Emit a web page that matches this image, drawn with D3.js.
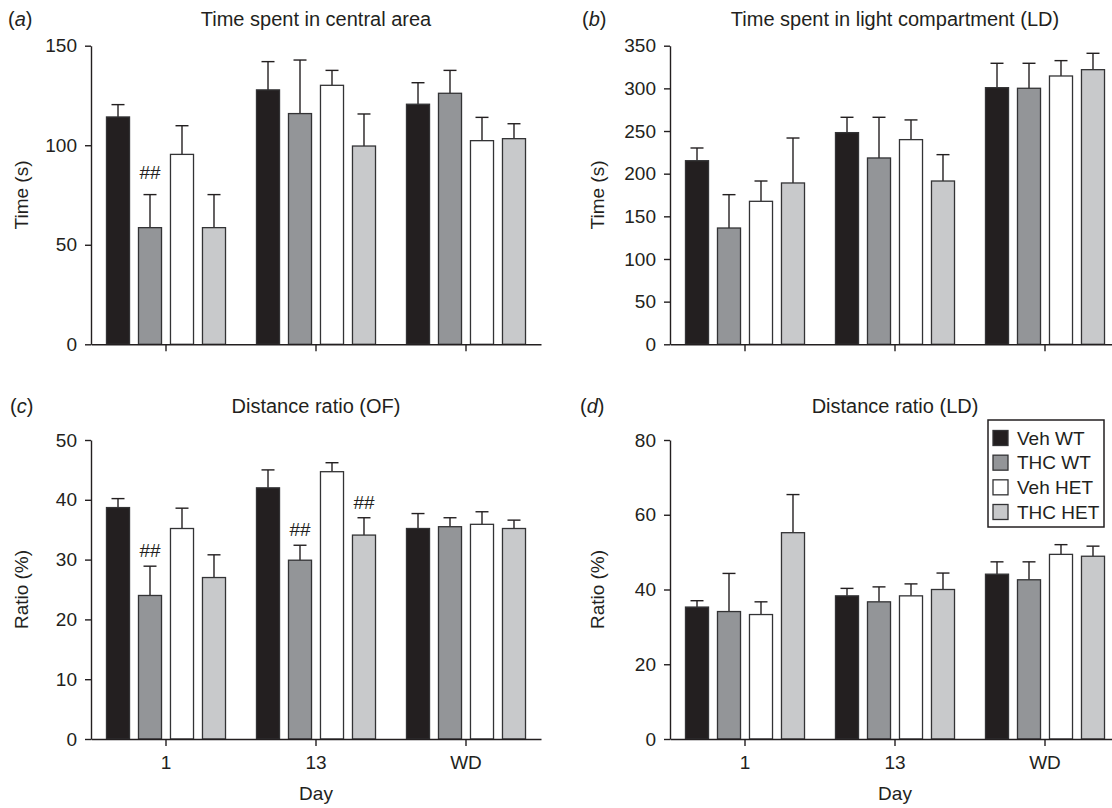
<!DOCTYPE html>
<html>
<head>
<meta charset="utf-8">
<script src="https://cdn.jsdelivr.net/npm/d3@7"></script>
<style>
  html, body { margin: 0; padding: 0; background: #fff; }
  svg { display: block; font-family: "Liberation Sans", Arial, Helvetica, sans-serif; }
</style>
</head>
<body>
<svg id="chart" width="1112" height="808"></svg>
<script>
// ---------------- DATA ----------------
const days = ["1", "13", "WD"];
const groups = ["Veh WT", "THC WT", "Veh HET", "THC HET"];

// (a) Time spent in central area (s) — rows: groups, columns: days
const centralMean = [[114.2, 127.8, 120.6], [58.6, 115.9, 126.1], [95.4, 130.1, 102.3], [58.6, 99.6, 103.3]];
const centralSem  = [[6.2, 14.2, 10.8], [16.6, 26.9, 11.5], [14.4, 7.5, 11.7], [16.6, 16.1, 7.5]];
const centralTicks = [0, 50, 100, 150];

// (b) Time spent in light compartment (LD) (s)
const lightMean = [[215.2, 248.1, 300.8], [136.3, 218.4, 300.1], [167.6, 239.9, 314.5], [189.1, 191.4, 321.9]];
const lightSem  = [[14.9, 18.0, 28.6], [39.1, 47.7, 29.3], [23.8, 23.1, 18.0], [52.7, 30.9, 19.2]];
const lightTicks = [0, 50, 100, 150, 200, 250, 300, 350];

// (c) Distance ratio (OF) (%)
const ofMean = [[38.7, 42.0, 35.2], [24.0, 29.9, 35.5], [35.2, 44.7, 35.9], [27.0, 34.1, 35.2]];
const ofSem  = [[1.5, 3.0, 2.5], [4.9, 2.5, 1.5], [3.4, 1.5, 2.1], [3.8, 2.9, 1.4]];
const ofTicks = [0, 10, 20, 30, 40, 50];

// (d) Distance ratio (LD) (%)
const ldMean = [[35.3, 38.3, 44.1], [34.1, 36.7, 42.6], [33.3, 38.3, 49.4], [55.2, 40.0, 48.9]];
const ldSem  = [[1.7, 2.0, 3.3], [10.2, 4.0, 4.8], [3.4, 3.2, 2.6], [10.2, 4.4, 2.7]];
const ldTicks = [0, 20, 40, 60, 80];

// significance markers: [groupIndex, dayIndex]
const centralMarks = [[1, 0]];
const ofMarks = [[1, 0], [1, 1], [3, 1]];
const markText = "##";

// ---------------- STYLE / LAYOUT ----------------
const ink = "#231f20";
const fills = ["#231f20", "#939598", "#ffffff", "#c8c9cb"];
const fontSize = 19;

const panels = [
  { letter: "a", title: "Time spent in central area", yLabel: "Time (s)", mean: centralMean, sem: centralSem, ticks: centralTicks, marks: centralMarks,
    left: 91, right: 541, top: 45.7, bottom: 344.3, titleY: 26, letterX: 8, yLabelX: 21, showX: false, markGap: 16 },
  { letter: "b", title: "Time spent in light compartment (LD)", yLabel: "Time (s)", mean: lightMean, sem: lightSem, ticks: lightTicks, marks: [],
    left: 670, right: 1120, top: 45.7, bottom: 344.3, titleY: 26, letterX: 582, yLabelX: 597, showX: false, markGap: 16 },
  { letter: "c", title: "Distance ratio (OF)", yLabel: "Ratio (%)", mean: ofMean, sem: ofSem, ticks: ofTicks, marks: ofMarks,
    left: 91, right: 541, top: 440, bottom: 739, titleY: 413, letterX: 10, yLabelX: 21, showX: true, markGap: 9 },
  { letter: "d", title: "Distance ratio (LD)", yLabel: "Ratio (%)", mean: ldMean, sem: ldSem, ticks: ldTicks, marks: [],
    left: 670, right: 1120, top: 440, bottom: 739, titleY: 413, letterX: 580, yLabelX: 597, showX: true, markGap: 9 }
];

const svg = d3.select("#chart");

panels.forEach(p => {
  const g = svg.append("g");
  const x0 = d3.scaleBand().domain(days).range([p.left, p.right]).padding(0);
  const x1 = d3.scaleBand().domain(groups).range([0, x0.bandwidth()]).paddingInner(0.28).paddingOuter(0.484);
  const y = d3.scaleLinear().domain([p.ticks[0], p.ticks[p.ticks.length - 1]]).range([p.bottom, p.top]);

  // bars with upper error bars
  groups.forEach((grp, gi) => {
    days.forEach((day, di) => {
      const v = p.mean[gi][di];
      const e = p.sem[gi][di];
      const bx = x0(day) + x1(grp);
      const cx = bx + x1.bandwidth() / 2;
      g.append("line").attr("x1", cx).attr("x2", cx).attr("y1", y(v)).attr("y2", y(v + e))
        .attr("stroke", ink).attr("stroke-width", 1.4);
      g.append("line").attr("x1", cx - 6.5).attr("x2", cx + 6.5).attr("y1", y(v + e)).attr("y2", y(v + e))
        .attr("stroke", ink).attr("stroke-width", 1.4);
      g.append("rect").attr("x", bx).attr("y", y(v)).attr("width", x1.bandwidth()).attr("height", y(0) - y(v))
        .attr("fill", fills[gi]).attr("stroke", "#333335").attr("stroke-width", 1.3);
    });
  });

  // significance markers
  p.marks.forEach(([gi, di]) => {
    const grp = groups[gi], day = days[di];
    const cx = x0(day) + x1(grp) + x1.bandwidth() / 2;
    g.append("text").attr("x", cx).attr("y", y(p.mean[gi][di] + p.sem[gi][di]) - p.markGap)
      .attr("text-anchor", "middle").attr("font-size", fontSize).attr("fill", ink).text(markText);
  });

  // y axis
  const yAxis = d3.axisLeft(y).tickValues(p.ticks).tickSize(6).tickSizeOuter(0).tickPadding(8);
  const ya = g.append("g").attr("transform", `translate(${p.left},0)`).call(yAxis);
  ya.attr("font-family", null);
  ya.selectAll("text").attr("font-size", fontSize).attr("fill", ink);
  ya.selectAll("line, path").attr("stroke", ink).attr("stroke-width", 1.4);

  // x axis
  const xAxis = d3.axisBottom(x0).tickSize(7).tickSizeOuter(0).tickPadding(10);
  const xa = g.append("g").attr("transform", `translate(0,${p.bottom})`).call(xAxis);
  xa.attr("font-family", null);
  xa.selectAll("line, path").attr("stroke", ink).attr("stroke-width", 1.4);
  if (p.showX) {
    xa.selectAll("text").attr("font-size", fontSize).attr("fill", ink);
    g.append("text").attr("x", (p.left + p.right) / 2).attr("y", p.bottom + 61)
      .attr("text-anchor", "middle").attr("font-size", fontSize).attr("fill", ink).text("Day");
  } else {
    xa.selectAll("text").remove();
  }

  // y label
  g.append("text").attr("transform", `translate(${p.yLabelX},${(p.top + p.bottom) / 2}) rotate(-90)`)
    .attr("text-anchor", "middle").attr("dominant-baseline", "central")
    .attr("font-size", fontSize).attr("fill", ink).text(p.yLabel);

  // title
  g.append("text").attr("x", (p.left + p.right) / 2).attr("y", p.titleY)
    .attr("text-anchor", "middle").attr("font-size", 20).attr("fill", ink).text(p.title);

  // panel letter
  const lt = g.append("text").attr("x", p.letterX).attr("y", p.titleY).attr("font-size", 20).attr("fill", ink);
  lt.append("tspan").text("(");
  lt.append("tspan").attr("font-style", "italic").text(p.letter);
  lt.append("tspan").text(")");
});

// legend (panel d)
const leg = svg.append("g");
const legLeft = 988, legTop = 420, legW = 116, legH = 107;
leg.append("rect").attr("x", legLeft).attr("y", legTop).attr("width", legW).attr("height", legH)
  .attr("fill", "#fff").attr("stroke", ink).attr("stroke-width", 1.5);
const legY = d3.scalePoint().domain(groups).range([legTop + 18, legTop + 92]);
groups.forEach((grp, gi) => {
  leg.append("rect").attr("x", legLeft + 5).attr("y", legY(grp) - 7.5).attr("width", 15).attr("height", 15)
    .attr("fill", fills[gi]).attr("stroke", "#333335").attr("stroke-width", 1.3);
  leg.append("text").attr("x", legLeft + 29).attr("y", legY(grp)).attr("dominant-baseline", "central")
    .attr("font-size", fontSize).attr("fill", ink).text(grp);
});
</script>
</body>
</html>
